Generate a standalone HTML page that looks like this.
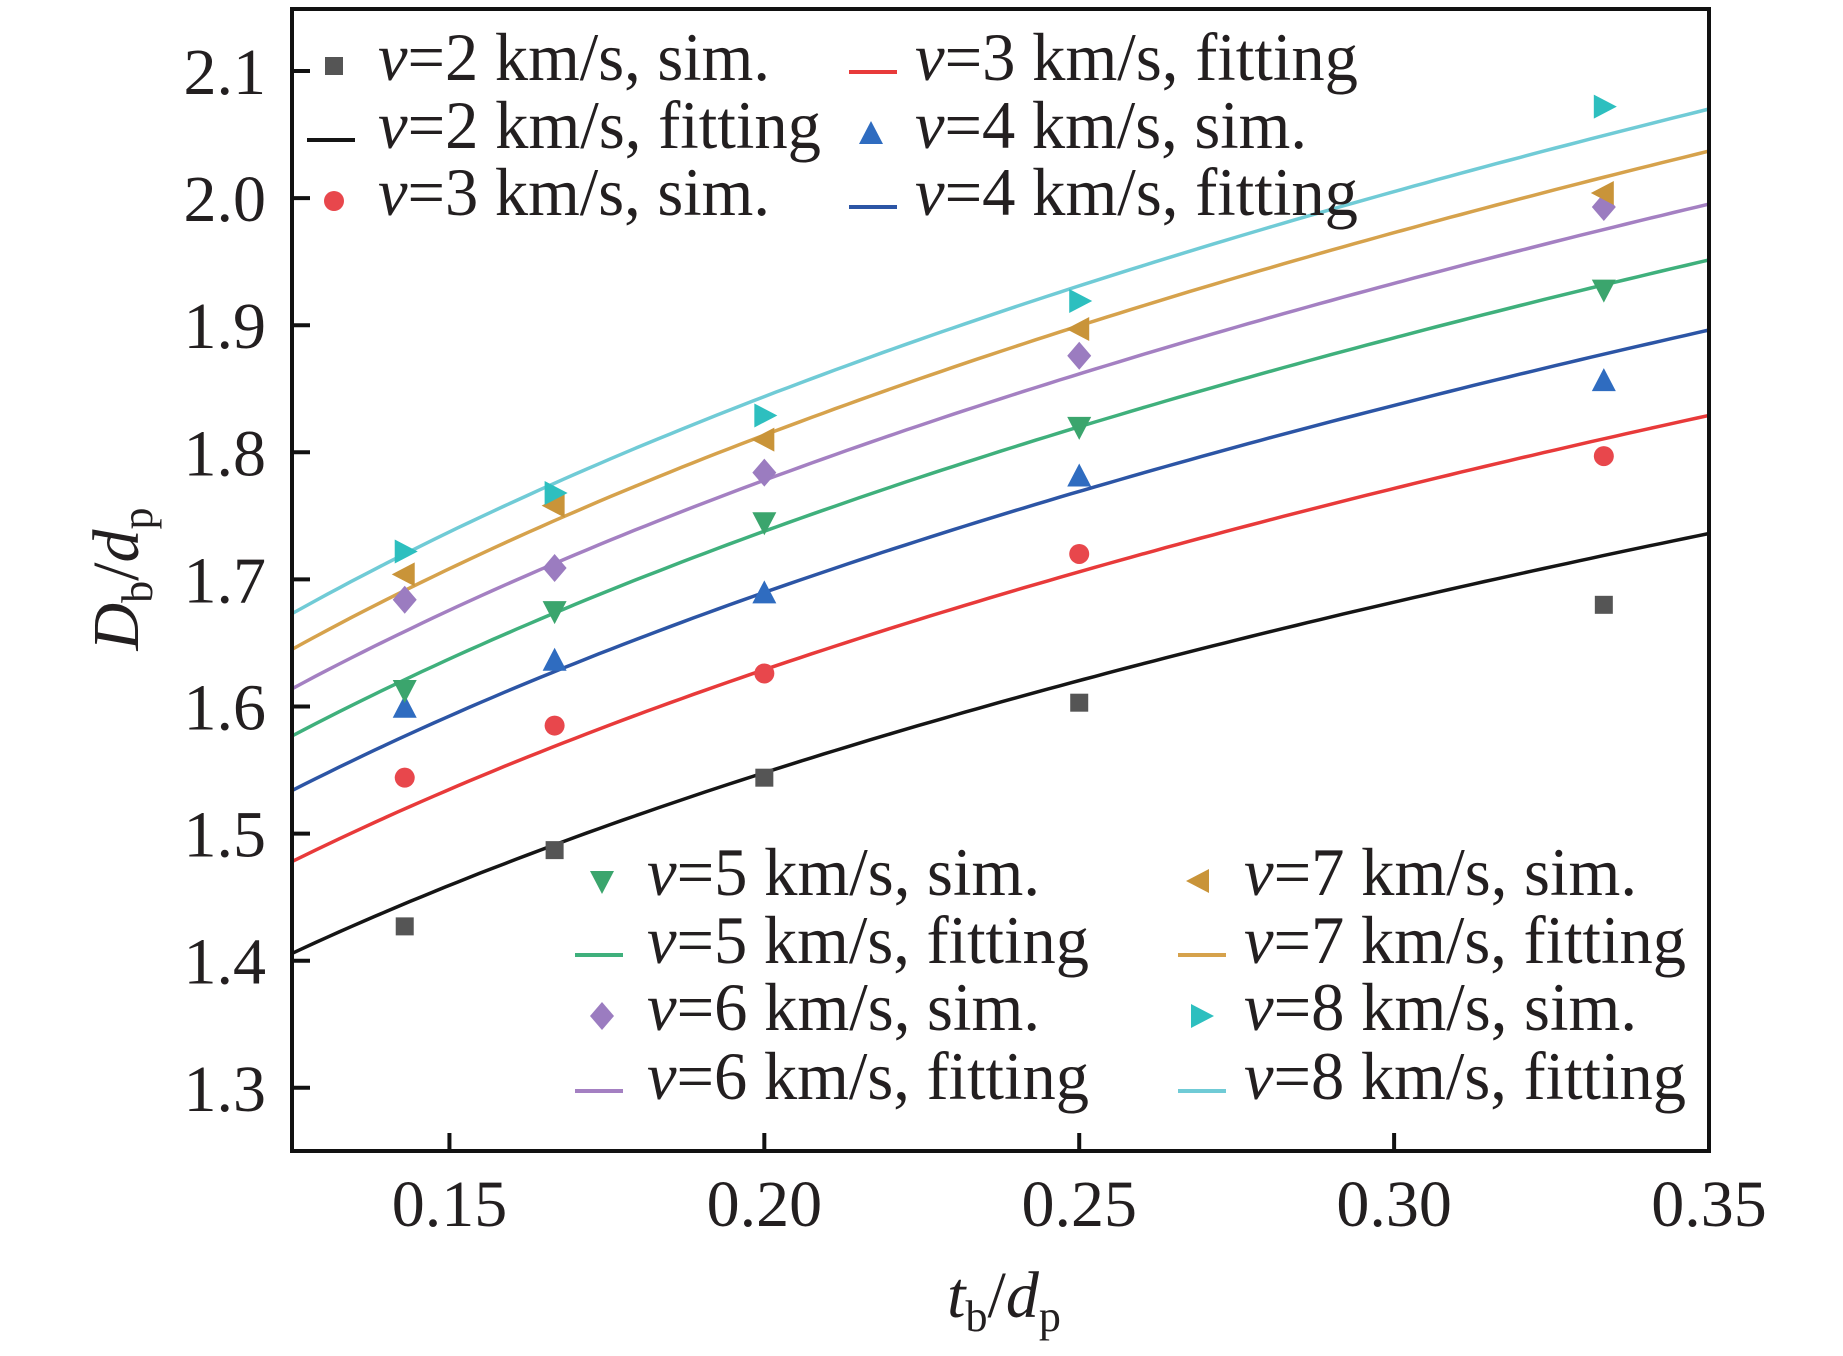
<!DOCTYPE html>
<html><head><meta charset="utf-8"><style>
html,body{margin:0;padding:0;background:#fff}
svg{display:block}
text{font-family:"Liberation Serif",serif;fill:#231f20}
</style></head><body>
<svg id="chart" width="1843" height="1356" viewBox="0 0 1843 1356" xmlns="http://www.w3.org/2000/svg">
<g id="plot"></g>
</svg>
<script>
const xTicks = [0.15, 0.20, 0.25, 0.30, 0.35];
const xTickLabels = ["0.15", "0.20", "0.25", "0.30", "0.35"];
const yTicks = [1.3, 1.4, 1.5, 1.6, 1.7, 1.8, 1.9, 2.0, 2.1];
const yTickLabels = ["1.3", "1.4", "1.5", "1.6", "1.7", "1.8", "1.9", "2.0", "2.1"];
const xData = [0.1429, 0.1667, 0.2, 0.25, 0.3333];
const speeds = [2, 3, 4, 5, 6, 7, 8];
const sim2 = [1.427, 1.487, 1.544, 1.603, 1.680];
const sim3 = [1.544, 1.585, 1.626, 1.720, 1.797];
const sim4 = [1.599, 1.636, 1.689, 1.781, 1.856];
const sim5 = [1.613, 1.675, 1.745, 1.820, 1.928];
const sim6 = [1.684, 1.709, 1.784, 1.876, 1.993];
const sim7 = [1.704, 1.758, 1.810, 1.897, 2.004];
const sim8 = [1.722, 1.768, 1.829, 1.919, 2.072];
const fitA = [2.153, 2.273, 2.354, 2.425, 2.477, 2.533, 2.572];
const fitB = [0.205, 0.207, 0.206, 0.207, 0.206, 0.2076, 0.2068];

const sims = [sim2, sim3, sim4, sim5, sim6, sim7, sim8];
const lineColors = ["#151515", "#e83a3a", "#2c55a5", "#3fb07c", "#a480c2", "#d6a24c", "#70cbd6"];
const markColors = ["#555555", "#e8474c", "#2f6cc0", "#3ba56d", "#9b7cc0", "#c99439", "#2dbfbf"];
const shapes = ["square", "circle", "up", "down", "diamond", "left", "right"];

const X0 = 292, X1 = 1709, Y0 = 9, Y1 = 1151;
const xmin = 0.125, xmax = 0.35;
function px(v) { return X0 + (v - xmin) / (xmax - xmin) * (X1 - X0); }
function py(v) { return 71 + (2.1 - v) * 1271; }

const NS = "http://www.w3.org/2000/svg";
const g = document.getElementById("plot");
function el(tag, attrs, parent) {
  const e = document.createElementNS(NS, tag);
  for (const k in attrs) e.setAttribute(k, attrs[k]);
  (parent || g).appendChild(e);
  return e;
}
function marker(shape, cx, cy, color, parent) {
  const s = 12;
  let e;
  if (shape === "square") e = el("rect", {x: cx - 9, y: cy - 9, width: 18, height: 18, fill: color}, parent);
  else if (shape === "circle") e = el("circle", {cx: cx, cy: cy, r: 10, fill: color}, parent);
  else {
    let pts;
    if (shape === "up") pts = [[cx, cy - s - 1], [cx - s, cy + s - 2], [cx + s, cy + s - 2]];
    if (shape === "down") pts = [[cx, cy + s + 1], [cx - s, cy - s + 2], [cx + s, cy - s + 2]];
    if (shape === "left") pts = [[cx - s - 1, cy], [cx + s - 2, cy - s], [cx + s - 2, cy + s]];
    if (shape === "right") pts = [[cx + s + 1, cy], [cx - s + 2, cy - s], [cx - s + 2, cy + s]];
    if (shape === "diamond") pts = [[cx, cy - 14], [cx + 12, cy], [cx, cy + 14], [cx - 12, cy]];
    e = el("polygon", {points: pts.map(p => p.join(",")).join(" "), fill: color}, parent);
  }
  return e;
}

for (let i = 0; i < speeds.length; i++) {
  let d = "";
  for (let k = 0; k <= 120; k++) {
    const xv = xmin + (xmax - xmin) * k / 120;
    const yv = fitA[i] * Math.pow(xv, fitB[i]);
    d += (k ? "L" : "M") + px(xv).toFixed(1) + "," + py(yv).toFixed(1);
  }
  const p = el("path", {d: d, fill: "none", stroke: lineColors[i], "stroke-width": 3.5});
  
  
}
for (let i = 0; i < speeds.length; i++) {
  const grp = el("g", {});
  
  
  for (let j = 0; j < xData.length; j++) {
    const m = marker(shapes[i], px(xData[j]), py(sims[i][j]), markColors[i], grp);
    
    
  }
}

const frame = el("rect", {x: X0, y: Y0, width: X1 - X0, height: Y1 - Y0, fill: "none", stroke: "#111", "stroke-width": 4});



for (let i = 0; i < xTicks.length; i++) {
  const x = px(xTicks[i]);
  const t = el("line", {x1: x, x2: x, y1: Y1, y2: Y1 - 18, stroke: "#111", "stroke-width": 4});
  
  
  const lb = el("text", {x: x, y: 1226, "font-size": 66, "text-anchor": "middle"});
  lb.textContent = xTickLabels[i];
  
  
}
for (let i = 0; i < yTicks.length; i++) {
  const y = py(yTicks[i]);
  const t = el("line", {x1: X0, x2: X0 + 18, y1: y, y2: y, stroke: "#111", "stroke-width": 4});
  
  
  const lb = el("text", {x: 266, y: y + 23, "font-size": 66, "text-anchor": "end"});
  lb.textContent = yTickLabels[i];
  
  
}

const legendItems = [
  {i:0, sim:true, mx:334, tx:378, y:80, w:392},
  {i:0, sim:false, mx:331, tx:378, y:148, w:443},
  {i:1, sim:true, mx:334, tx:378, y:215, w:392},
  {i:1, sim:false, mx:873, tx:915, y:80, w:443},
  {i:2, sim:true, mx:871, tx:915, y:148, w:392},
  {i:2, sim:false, mx:873, tx:915, y:215, w:443},
  {i:3, sim:true, mx:602, tx:647, y:895, w:393},
  {i:3, sim:false, mx:599, tx:647, y:963, w:442},
  {i:4, sim:true, mx:602, tx:647, y:1030, w:393},
  {i:4, sim:false, mx:599, tx:647, y:1099, w:442},
  {i:5, sim:true, mx:1199, tx:1244, y:895, w:393},
  {i:5, sim:false, mx:1202, tx:1244, y:963, w:442},
  {i:6, sim:true, mx:1201, tx:1244, y:1030, w:393},
  {i:6, sim:false, mx:1202, tx:1244, y:1099, w:442}
];
legendItems.forEach(it => {
  const lg = el("g", {});
  
  
  if (it.sim) marker(shapes[it.i], it.mx, it.y - 14, markColors[it.i], lg);
  else el("line", {x1: it.mx - 24, x2: it.mx + 24, y1: it.y - 8, y2: it.y - 8, stroke: lineColors[it.i], "stroke-width": 4}, lg);
  const t = el("text", {x: it.tx, y: it.y, "font-size": 68, textLength: it.w, lengthAdjust: "spacingAndGlyphs"}, lg);
  const iv = el("tspan", {"font-style": "italic"}, t);
  iv.textContent = "v";
  const rest = el("tspan", {}, t);
  rest.textContent = "=" + speeds[it.i] + " km/s, " + (it.sim ? "sim." : "fitting");
});

const xt = el("text", {x: 1004, y: 1317, "font-size": 66, "text-anchor": "middle"});


xt.innerHTML = '<tspan font-style="italic">t</tspan><tspan font-size="44" dy="14">b</tspan><tspan dy="-14">/</tspan><tspan font-style="italic">d</tspan><tspan font-size="44" dy="14">p</tspan>';
const yt = el("text", {x: 0, y: 0, "font-size": 66, "text-anchor": "middle", transform: "translate(138,579) rotate(-90)"});


yt.innerHTML = '<tspan font-style="italic">D</tspan><tspan font-size="44" dy="14">b</tspan><tspan dy="-14">/</tspan><tspan font-style="italic">d</tspan><tspan font-size="44" dy="14">p</tspan>';
</script>
</body></html>
